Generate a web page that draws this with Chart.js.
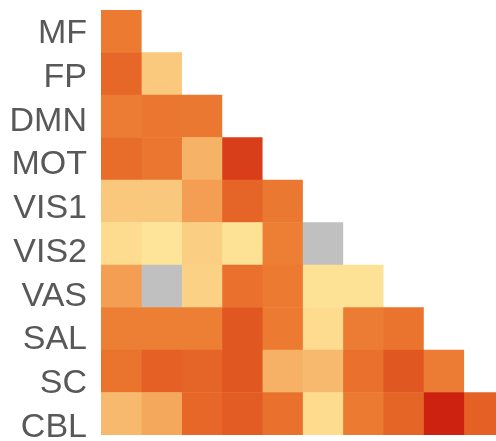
<!DOCTYPE html>
<html>
<head>
<meta charset="utf-8">
<script src="https://cdn.jsdelivr.net/npm/chart.js@4.4.1/dist/chart.umd.min.js"></script>
<style>
  html, body { margin: 0; padding: 0; background: #ffffff; }
  #wrap { width: 496px; height: 441px; position: relative; }
</style>
</head>
<body>
<div id="wrap"><canvas id="c"></canvas></div>
<script>
// Network labels (rows and columns of the lower-triangular matrix)
const networks = ['MF', 'FP', 'DMN', 'MOT', 'VIS1', 'VIS2', 'VAS', 'SAL', 'SC', 'CBL'];

// Connectivity scores per row (columns 0..row); null = no estimate
const rowMF   = [0.60];
const rowFP   = [0.70, 0.22];
const rowDMN  = [0.59, 0.62, 0.61];
const rowMOT  = [0.67, 0.62, 0.34, 0.89];
const rowVIS1 = [0.23, 0.23, 0.45, 0.72, 0.61];
const rowVIS2 = [0.11, 0.03, 0.19, 0.04, 0.58, null];
const rowVAS  = [0.45, null, 0.18, 0.65, 0.60, 0.04, 0.04];
const rowSAL  = [0.58, 0.58, 0.58, 0.78, 0.60, 0.10, 0.59, 0.63];
const rowSC   = [0.63, 0.74, 0.72, 0.78, 0.35, 0.31, 0.65, 0.78, 0.59];
const rowCBL  = [0.31, 0.40, 0.70, 0.76, 0.65, 0.10, 0.60, 0.71, 0.98, 0.74];

const matrix = [rowMF, rowFP, rowDMN, rowMOT, rowVIS1, rowVIS2, rowVAS, rowSAL, rowSC, rowCBL];

// Sequential yellow-orange-red ramp
const ramp = [
  [0.00, [254, 231, 155]],
  [0.15, [252, 214, 138]],
  [0.30, [247, 187, 112]],
  [0.45, [243, 158,  82]],
  [0.60, [236, 122,  49]],
  [0.75, [227,  94,  36]],
  [0.90, [214,  60,  24]],
  [1.00, [202,  28,  13]]
];
const missingColor = '#c0c0c0';

function colorFor(v) {
  if (v === null || v === undefined) return missingColor;
  for (let k = 1; k < ramp.length; k++) {
    if (v <= ramp[k][0]) {
      const [a, ca] = ramp[k - 1], [b, cb] = ramp[k];
      const t = (v - a) / (b - a);
      const c = ca.map((x, i) => Math.round(x + (cb[i] - x) * t));
      return `rgb(${c[0]},${c[1]},${c[2]})`;
    }
  }
  const c = ramp[ramp.length - 1][1];
  return `rgb(${c[0]},${c[1]},${c[2]})`;
}

// One floating-bar dataset per column; each row gets a unit-wide cell
const datasets = networks.map((_, col) => ({
  label: networks[col],
  data: matrix.map(row => (col < row.length ? [col, col + 1] : null)),
  backgroundColor: matrix.map(row => (col < row.length ? colorFor(row[col]) : 'rgba(0,0,0,0)')),
  borderWidth: 0,
  barPercentage: 1.0,
  categoryPercentage: 1.0,
  grouped: false,
  yAxisID: 'y'
}));

new Chart(document.getElementById('c'), {
  type: 'bar',
  data: { labels: networks, datasets },
  options: {
    indexAxis: 'y',
    responsive: true,
    maintainAspectRatio: false,
    animation: false,
    layout: { padding: { top: 10, bottom: 6, left: 0, right: 0 } },
    plugins: { legend: { display: false }, tooltip: { enabled: false } },
    scales: {
      x: {
        type: 'linear',
        min: 0,
        max: 9.8,
        display: false
      },
      // row axis used to place the cells
      y: {
        type: 'category',
        offset: true,
        display: false
      },
      // label axis: row names spread slightly wider than the cells
      yLabels: {
        type: 'linear',
        axis: 'y',
        position: 'left',
        reverse: true,
        offset: false,
        beginAtZero: false,
        bounds: 'data',
        min: -0.54,
        max: 9.17,
        grid: { display: false, drawTicks: false, offset: false },
        border: { display: false },
        afterBuildTicks: (scale) => {
          scale.ticks = networks.map((_, i) => ({ value: i }));
        },
        ticks: {
          autoSkip: false,
          color: '#585858',
          padding: 14,
          font: { family: 'Liberation Sans, Arial, sans-serif', size: 34, lineHeight: 0.01 },
          callback: (value) => networks[value]
        },
        afterFit: (scale) => {
          scale.width = 101;
          scale.paddingTop = 0;
          scale.paddingBottom = 0;
        }
      }
    }
  }
});
</script>
</body>
</html>
